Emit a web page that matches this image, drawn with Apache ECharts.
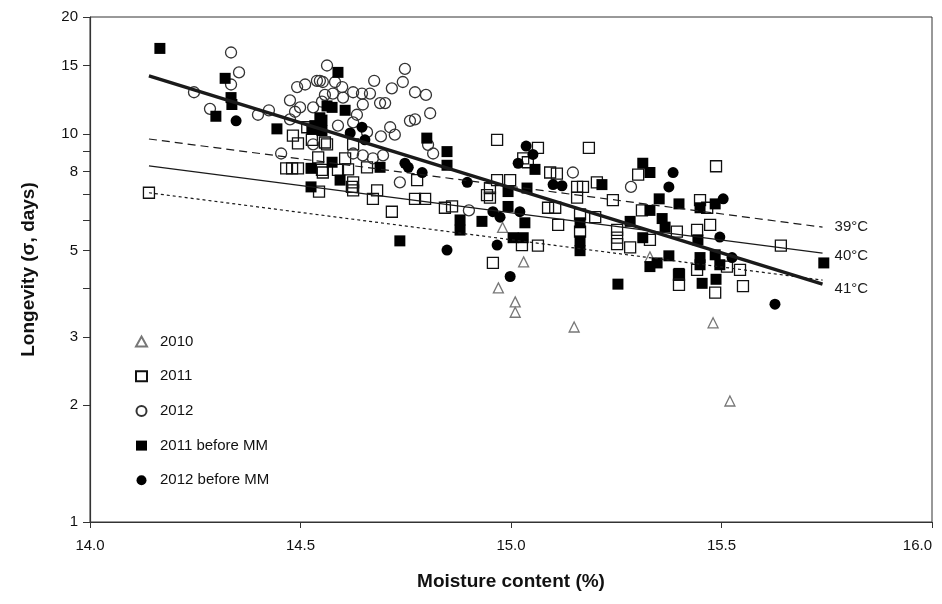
<!DOCTYPE html>
<html>
<head>
<meta charset="utf-8">
<script src="https://cdn.jsdelivr.net/npm/echarts@6/dist/echarts.min.js"></script>
<style>
  html, body { margin: 0; padding: 0; background: #fff; }
  #chart { width: 942px; height: 604px; }
</style>
</head>
<body>
<div id="chart"></div>
<script>
// [moisture %, longevity sigma days]
var pts2010 = [
  [14.98, 5.74], [15.03, 4.68], [14.97, 4.01], [15.01, 3.69], [15.01, 3.47],
  [15.15, 3.18], [15.33, 4.82], [15.48, 3.26], [15.52, 2.05]
]
var pts2011 = [
  [14.14, 7.05], [14.466, 8.15], [14.48, 8.15], [14.494, 8.15], [14.544, 7.1],
  [14.551, 8.08], [14.482, 9.9], [14.494, 9.45], [14.542, 8.7], [14.553, 7.95],
  [14.589, 8.08], [14.622, 7.3], [14.606, 8.65], [14.527, 9.65], [14.558, 9.5],
  [14.613, 8.1], [14.625, 7.5], [14.625, 7.15], [14.658, 8.2], [14.682, 7.15],
  [14.777, 7.6], [14.772, 6.8], [14.796, 6.8], [14.625, 9.4], [14.563, 9.4],
  [14.516, 10.4], [14.967, 9.65], [14.967, 7.6], [14.943, 6.95], [15.064, 9.2],
  [15.029, 8.65], [15.04, 8.45], [15.185, 9.2], [15.093, 7.95], [15.109, 7.9],
  [15.157, 7.3], [15.171, 7.3], [15.204, 7.5], [14.998, 7.6], [14.95, 7.25],
  [15.157, 6.85], [15.242, 6.75], [15.088, 6.45], [15.105, 6.45], [14.843, 6.45],
  [14.86, 6.5], [15.112, 5.83], [15.164, 6.2], [15.164, 5.6], [15.026, 5.17],
  [15.064, 5.15], [14.957, 4.65], [15.2, 6.1], [15.252, 5.66], [15.252, 5.4],
  [15.252, 5.2], [14.672, 6.8], [14.717, 6.3], [15.302, 7.85], [15.487, 8.25],
  [15.449, 6.75], [15.466, 6.45], [15.311, 6.35], [15.394, 5.6], [15.442, 5.66],
  [15.473, 5.83], [15.283, 5.1], [15.33, 5.33], [15.442, 4.46], [15.513, 4.55],
  [15.544, 4.46], [15.641, 5.15], [15.399, 4.33], [15.399, 4.08], [15.485, 3.9],
  [15.551, 4.05], [14.95, 6.85]
]
var pts2012 = [
  [14.335, 16.2], [14.354, 14.4], [14.335, 13.4], [14.247, 12.8], [14.285, 11.6],
  [14.399, 11.2], [14.425, 11.5], [14.454, 8.9], [14.492, 13.2], [14.511, 13.4],
  [14.475, 12.2], [14.487, 11.4], [14.499, 11.7], [14.53, 11.7], [14.539, 13.7],
  [14.563, 15.0], [14.546, 13.7], [14.553, 13.6], [14.582, 13.6], [14.599, 13.2],
  [14.625, 12.8], [14.646, 12.7], [14.665, 12.7], [14.675, 13.7], [14.717, 13.1],
  [14.743, 13.6], [14.748, 14.7], [14.772, 12.8], [14.798, 12.6], [14.808, 11.3],
  [14.76, 10.8], [14.772, 10.9], [14.689, 12.0], [14.701, 12.0], [14.648, 11.9],
  [14.713, 10.4], [14.724, 9.95], [14.691, 9.85], [14.577, 12.7], [14.601, 12.4],
  [14.558, 12.6], [14.634, 11.2], [14.658, 10.1], [14.625, 8.9], [14.648, 8.8],
  [14.672, 8.65], [14.696, 8.8], [14.736, 7.5], [14.803, 9.37], [14.815, 8.9],
  [14.53, 9.4], [14.589, 10.5], [14.625, 10.7], [14.9, 6.35], [15.147, 7.95],
  [15.285, 7.3], [14.475, 10.9], [14.551, 12.1]
]
var pts2011MM = [
  [14.166, 16.6], [14.321, 13.9], [14.335, 12.4], [14.337, 11.9], [14.299, 11.1],
  [14.444, 10.3], [14.525, 8.15], [14.525, 7.3], [14.589, 14.4], [14.527, 10.3],
  [14.551, 10.85], [14.575, 11.7], [14.606, 11.5], [14.551, 10.2], [14.594, 7.6],
  [14.575, 8.45], [14.8, 9.75], [14.848, 9.0], [14.848, 8.3], [14.689, 8.2],
  [14.563, 11.8], [14.546, 11.0], [14.534, 10.5], [14.736, 5.3], [15.057, 8.1],
  [15.216, 7.4], [14.993, 7.1], [15.038, 7.25], [14.993, 6.5], [14.879, 6.0],
  [14.879, 5.65], [14.931, 5.95], [15.033, 5.9], [15.164, 5.9], [15.164, 5.3],
  [15.164, 5.0], [15.005, 5.4], [15.029, 5.4], [15.313, 8.4], [15.33, 7.95],
  [15.352, 6.8], [15.399, 6.6], [15.485, 6.6], [15.33, 6.35], [15.449, 6.45],
  [15.283, 5.95], [15.359, 6.05], [15.366, 5.75], [15.313, 5.4], [15.444, 5.33],
  [15.375, 4.85], [15.347, 4.65], [15.33, 4.55], [15.449, 4.8], [15.449, 4.6],
  [15.485, 4.88], [15.496, 4.6], [15.399, 4.37], [15.254, 4.1], [15.454, 4.12],
  [15.487, 4.22], [15.743, 4.65]
]
var pts2012MM = [
  [14.347, 10.8], [14.618, 10.05], [14.646, 10.4], [14.653, 9.65], [14.748, 8.4],
  [14.756, 8.2], [14.789, 7.95], [14.896, 7.5], [15.036, 9.3], [15.017, 8.4],
  [15.052, 8.85], [15.1, 7.4], [15.121, 7.35], [15.021, 6.3], [14.957, 6.3],
  [14.974, 6.1], [14.967, 5.17], [14.848, 5.02], [14.998, 4.29], [15.385, 7.95],
  [15.375, 7.3], [15.504, 6.8], [15.496, 5.42], [15.525, 4.8], [15.627, 3.64]
]

// regression / model lines, start and end of each
var lineX = [14.14, 15.74]
var fitAll = [14.1, 4.1]
var line39 = [9.7, 5.75]
var line40 = [8.27, 4.93]
var line41 = [7.05, 4.2]
var lineNames = ['39°C', '40°C', '41°C']

var xTicks = [14.0, 14.5, 15.0, 15.5, 16.0]
var yTicks = [1, 2, 3, 4, 5, 6, 7, 8, 9, 10, 15, 20]
var yLabels = [1, 2, 3, 5, 8, 10, 15, 20]

var font = 'Liberation Sans, Arial, sans-serif'

function pairs(ys) {
  return lineX.map(function (x, i) { return [x, ys[i]] })
}

function scatter(name, data, symbol, fill, border, size) {
  return {
    name: name,
    type: 'scatter',
    data: data,
    symbol: symbol,
    symbolSize: size,
    itemStyle: {
      color: fill,
      borderColor: border,
      borderWidth: fill === 'transparent' ? 1.3 : 0,
      opacity: 1
    },
    z: 2
  }
}

function line(ys, width, dash, label, dy) {
  var s = {
    type: 'line',
    data: pairs(ys),
    symbol: 'none',
    silent: true,
    lineStyle: { color: '#1a1a1a', width: width, type: dash },
    z: 3
  }
  if (label) {
    s.endLabel = {
      show: true,
      formatter: label,
      distance: 12,
      offset: [0, dy],
      color: '#1a1a1a',
      fontFamily: font,
      fontSize: 15
    }
  }
  return s
}

var chart = echarts.init(document.getElementById('chart'))
chart.setOption({
  animation: false,
  backgroundColor: '#fff',
  grid: {
    left: 90,
    right: 10,
    top: 17,
    bottom: 82,
    outerBoundsMode: 'none',
    containLabel: false,
    show: true,
    borderColor: '#333',
    borderWidth: 1
  },
  legend: {
    orient: 'vertical',
    left: 130,
    top: 329,
    itemWidth: 11,
    itemHeight: 10,
    itemGap: 19.7,
    data: ['2010', '2011', '2012', '2011 before MM', '2012 before MM'],
    textStyle: { fontFamily: font, fontSize: 15, color: '#111', padding: [0, 0, 0, 8] }
  },
  xAxis: {
    type: 'value',
    min: 14,
    max: 16,
    interval: 0.5,
    name: 'Moisture content (%)',
    nameLocation: 'middle',
    nameGap: 50,
    nameTextStyle: { fontFamily: font, fontSize: 19, fontWeight: 'bold', color: '#111' },
    axisLine: { lineStyle: { color: '#333', width: 1.2 } },
    axisTick: { length: 6, lineStyle: { color: '#333' } },
    axisLabel: {
      margin: 16,
      fontFamily: font,
      fontSize: 15,
      color: '#111',
      customValues: xTicks,
      alignMaxLabel: 'right',
      formatter: function (v) { return v.toFixed(1) }
    },
    splitLine: { show: false }
  },
  yAxis: {
    type: 'log',
    logBase: 10,
    min: 1,
    max: 20,
    name: 'Longevity (σ, days)',
    nameLocation: 'middle',
    nameGap: 52,
    nameTextStyle: { fontFamily: font, fontSize: 19, fontWeight: 'bold', color: '#111' },
    axisLine: { show: true, lineStyle: { color: '#333', width: 1.2 } },
    axisTick: { show: true, length: 7, customValues: yTicks, lineStyle: { color: '#333' } },
    axisLabel: {
      margin: 12,
      fontFamily: font,
      fontSize: 15,
      color: '#111',
      customValues: yLabels
    },
    minorTick: { show: false },
    splitLine: { show: false }
  },
  series: [
    scatter('2010', pts2010, 'triangle', 'transparent', '#777', 10),
    scatter('2011', pts2011, 'rect', 'transparent', '#111', 11),
    scatter('2012', pts2012, 'circle', 'transparent', '#333', 11),
    scatter('2011 before MM', pts2011MM, 'rect', '#000', '#000', 11),
    scatter('2012 before MM', pts2012MM, 'circle', '#000', '#000', 11),
    line(line39, 1.2, [8, 5], lineNames[0], 0),
    line(line40, 1.2, 'solid', lineNames[1], 3),
    line(line41, 1.2, [3, 3], lineNames[2], 9),
    line(fitAll, 3.5, 'solid', null, 0)
  ]
})
</script>
</body>
</html>
